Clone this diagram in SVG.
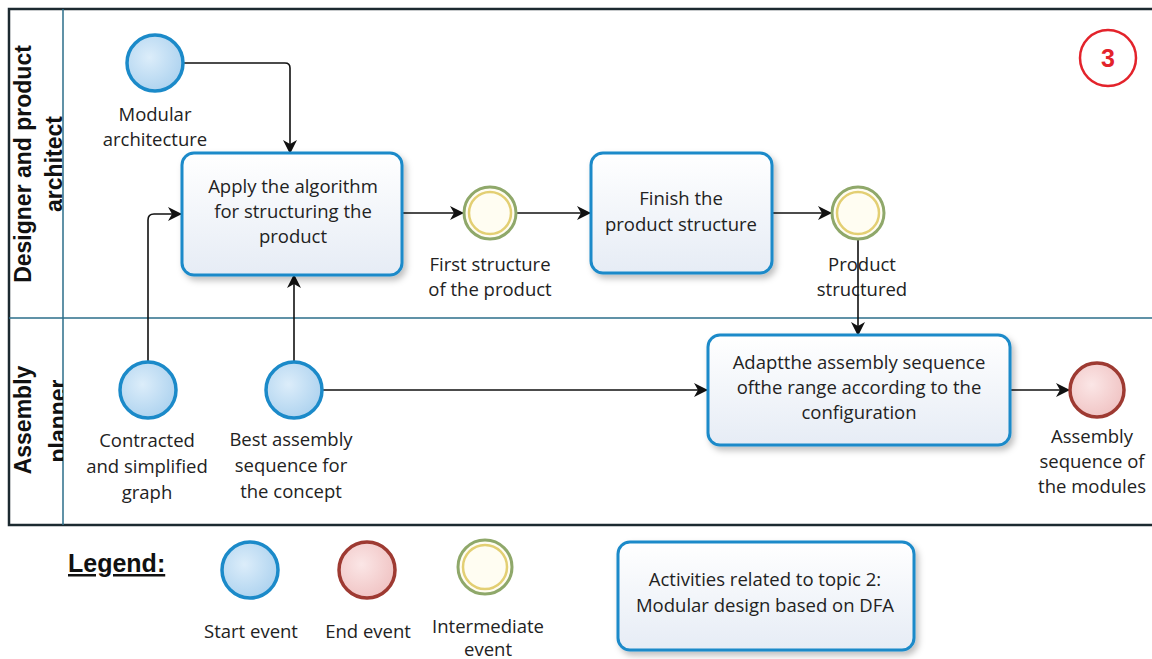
<svg xmlns="http://www.w3.org/2000/svg" width="1152" height="659" viewBox="0 0 1152 659">
<defs>
<linearGradient id="gBox" x1="0" y1="0" x2="0" y2="1"><stop offset="0" stop-color="#ffffff"/><stop offset="1" stop-color="#e6ecf5"/></linearGradient>
<radialGradient id="gStart" cx="0.4" cy="0.4" r="0.7"><stop offset="0" stop-color="#dcedfa"/><stop offset="1" stop-color="#a9d0ee"/></radialGradient>
<radialGradient id="gEnd" cx="0.4" cy="0.4" r="0.7"><stop offset="0" stop-color="#fbe6e6"/><stop offset="1" stop-color="#efc0c0"/></radialGradient>
<filter id="sh" x="-20%" y="-20%" width="150%" height="150%"><feDropShadow dx="3" dy="4" stdDeviation="3" flood-color="#000" flood-opacity="0.25"/></filter>
<marker id="arr" viewBox="0 0 14 14" refX="13" refY="7" markerWidth="14" markerHeight="14" markerUnits="userSpaceOnUse" orient="auto"><path d="M0,0 L14,7 L0,14 L4,7 Z" fill="#111"/></marker>
<clipPath id="hdr2"><rect x="9" y="318" width="54" height="207"/></clipPath>
</defs>
<style>
.t{font-family:"Open Sans","DejaVu Sans",sans-serif;font-size:18.5px;fill:#222;text-anchor:middle}
.lane{font-family:"Liberation Sans",Arial,sans-serif;font-weight:bold;font-size:23px;fill:#111;text-anchor:middle}
.box{fill:url(#gBox);stroke:#1b8ac9;stroke-width:3;filter:url(#sh)}
.start{fill:url(#gStart);stroke:#1b8ac9;stroke-width:3.5}
.end{fill:url(#gEnd);stroke:#9e3a32;stroke-width:3.5}
.im1{fill:#fffdf2;stroke:#8fa86a;stroke-width:3}
.im2{fill:none;stroke:#e3cf73;stroke-width:2.5}
.c{fill:none;stroke:#111;stroke-width:1.6;marker-end:url(#arr)}
</style>
<rect x="0" y="0" width="1152" height="659" fill="#fff"/>
<g id="pool">
<rect x="9" y="9" width="1160" height="516" fill="none" stroke="#1c2a30" stroke-width="2.5"/>
<line x1="63" y1="9" x2="63" y2="525" stroke="#2b6e8a" stroke-width="1.5"/>
<line x1="9" y1="318" x2="1152" y2="318" stroke="#2b6e8a" stroke-width="1.5"/>
<text class="lane" transform="translate(31,164) rotate(-90)">Designer and product</text>
<text class="lane" transform="translate(62,164) rotate(-90)">architect</text>
<g clip-path="url(#hdr2)">
<text class="lane" transform="translate(31,420) rotate(-90)">Assembly</text>
<text class="lane" transform="translate(66,421) rotate(-90)">planner</text>
</g>
</g>
<g id="badge">
<circle cx="1108" cy="58" r="28" fill="#fff" stroke="#e3232b" stroke-width="2.5"/>
<text x="1108" y="67" font-family="Liberation Sans,Arial,sans-serif" font-weight="bold" font-size="25" fill="#e3232b" text-anchor="middle">3</text>
</g>
<g id="connectors">
<path class="c" d="M183,63 H285 Q290,63 290,68 V153"/>
<path class="c" d="M148,362 V220 Q148,214 154,214 H181"/>
<path class="c" d="M294,362 V275"/>
<path class="c" d="M322,390 H707"/>
<path class="c" d="M402,213 H463"/>
<path class="c" d="M517,213 H590"/>
<path class="c" d="M772,213 H831"/>
<path class="c" d="M858,240 V335"/>
<path class="c" d="M1010,390 H1069"/>
</g>
<g id="n_modular">
<circle class="start" cx="155" cy="63" r="28"/>
<text class="t" x="155" y="121">Modular</text>
<text class="t" x="155" y="146">architecture</text>
</g>
<g id="n_apply">
<rect class="box" x="182" y="153" width="220" height="122" rx="12"/>
<text class="t" x="293" y="193">Apply the algorithm</text>
<text class="t" x="293" y="218">for structuring the</text>
<text class="t" x="293" y="243">product</text>
</g>
<g id="n_first">
<circle class="im1" cx="490" cy="213" r="26"/>
<circle class="im2" cx="490" cy="213" r="21"/>
<text class="t" x="490" y="271">First structure</text>
<text class="t" x="490" y="296">of the product</text>
</g>
<g id="n_finish">
<rect class="box" x="591" y="153" width="181" height="120" rx="12"/>
<text class="t" x="681" y="205">Finish the</text>
<text class="t" x="681" y="231">product structure</text>
</g>
<g id="n_structured">
<circle class="im1" cx="858" cy="213" r="26"/>
<circle class="im2" cx="858" cy="213" r="21"/>
<text class="t" x="862" y="271">Product</text>
<text class="t" x="862" y="296">structured</text>
</g>
<g id="n_contracted">
<circle class="start" cx="148" cy="390" r="28"/>
<text class="t" x="147" y="447">Contracted</text>
<text class="t" x="147" y="473">and simplified</text>
<text class="t" x="147" y="499">graph</text>
</g>
<g id="n_best">
<circle class="start" cx="294" cy="390" r="28"/>
<text class="t" x="291" y="446">Best assembly</text>
<text class="t" x="291" y="472">sequence for</text>
<text class="t" x="291" y="498">the concept</text>
</g>
<g id="n_adapt">
<rect class="box" x="708" y="335" width="302" height="110" rx="12"/>
<text class="t" x="859" y="369">Adaptthe assembly sequence</text>
<text class="t" x="859" y="394">ofthe range according to the</text>
<text class="t" x="859" y="419">configuration</text>
</g>
<g id="n_end">
<circle class="end" cx="1097" cy="390" r="27"/>
<text class="t" x="1092" y="443">Assembly</text>
<text class="t" x="1092" y="468">sequence of</text>
<text class="t" x="1092" y="493">the modules</text>
</g>
<g id="legend">
<text x="68" y="572" font-family="Liberation Sans,Arial,sans-serif" font-weight="bold" font-size="25" fill="#111" text-decoration="underline">Legend:</text>
<circle class="start" cx="250" cy="570" r="28"/>
<text class="t" x="251" y="638">Start event</text>
<circle class="end" cx="367" cy="570" r="28"/>
<text class="t" x="368" y="638">End event</text>
<circle class="im1" cx="485" cy="567" r="27"/>
<circle class="im2" cx="485" cy="567" r="22"/>
<text class="t" x="488" y="633">Intermediate</text>
<text class="t" x="488" y="656">event</text>
<rect class="box" x="618" y="542" width="296" height="108" rx="12"/>
<text class="t" x="765" y="586">Activities related to topic 2:</text>
<text class="t" x="765" y="612">Modular design based on DFA</text>
</g>
</svg>
